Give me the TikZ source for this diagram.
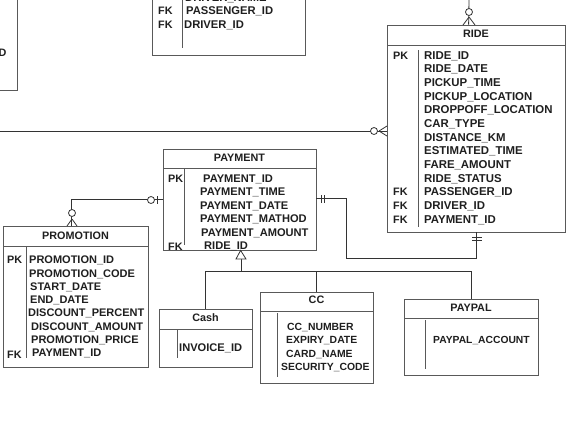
\documentclass[tikz,border=0pt]{standalone}
\usepackage{fontspec}
\setmainfont{Liberation Sans}
\usetikzlibrary{shadows}
\newcommand\erbox[6]{%
  \node[ebox, minimum width={#4-(#2)}, minimum height={#5-(#3)}] (#1) at ({(#2+#4)/2},{(#3+#5)/2}) {};
  \draw[eline] (#2,#6) -- (#4,#6);}
\begin{document}
\begin{tikzpicture}[x=1pt,y=-1pt,
  ebox/.style={draw=black!65, line width=0.8pt, fill=white, inner sep=0pt,
    drop shadow={opacity=0.15, shadow xshift=1.2pt, shadow yshift=-1.2pt}},
  eline/.style={draw=black!65, line width=0.8pt},
  conn/.style={draw=black!80, line width=0.8pt},
  attr/.style={anchor=base west, inner sep=0pt, font=\fontsize{#1}{12}\selectfont\bfseries, text=black!88},
  attr/.default=10.8,
  ttl/.style={inner sep=0pt, font=\fontsize{10.8}{12}\selectfont\bfseries, text=black!88}]
\useasboundingbox (0,0) rectangle (576,440);
\clip (0,0) rectangle (576,440);

% ---------- partial box top left
\erbox{tl}{-20}{-20}{17}{90}{-30}
\node[attr] (tlD) at (-1.5,56) {D};

% ---------- partial box top middle
\erbox{tm}{152}{-20}{305}{55}{-30}
\draw[eline] (182,-20) -- (182,48);
\node[attr=11.2] (tm0) at (185,1) {DRIVER\_NAME};
\node[attr=11.2] (tm1) at (186,14) {PASSENGER\_ID};
\node[attr=11.2] (tm2) at (184,28) {DRIVER\_ID};
\node[attr] (tmk1) at (158,14) {FK};
\node[attr] (tmk2) at (158,28) {FK};

% ---------- RIDE
\erbox{ride}{387}{25}{565}{232}{45}
\node[ttl] (rideT0) at (476,34) {RIDE};
\draw[eline] (418,50) -- (418,227);
\foreach \t [count=\i] in {RIDE\_ID, RIDE\_DATE, PICKUP\_TIME, PICKUP\_LOCATION,
  DROPPOFF\_LOCATION, CAR\_TYPE, DISTANCE\_KM, ESTIMATED\_TIME, FARE\_AMOUNT,
  RIDE\_STATUS, PASSENGER\_ID, DRIVER\_ID, PAYMENT\_ID}
  \node[attr=11.4] (ride\i) at (424,{59+13.67*(\i-1)}) {\t};
\node[attr] (ridePK) at (393,59) {PK};
\node[attr] (rideFK1) at (393,195.7) {FK};
\node[attr] (rideFK2) at (393,209.4) {FK};
\node[attr] (rideFK3) at (393,223) {FK};

% ---------- PAYMENT
\erbox{pay}{163}{149}{316}{250}{168}
\node[ttl] (payT0) at (239.5,158) {PAYMENT};
\draw[eline] (184,168) -- (184,245);
\node[attr=11.1] (pay1) at (203,182) {PAYMENT\_ID};
\node[attr=11.1] (pay2) at (200,195) {PAYMENT\_TIME};
\node[attr=11.1] (pay3) at (200,209) {PAYMENT\_DATE};
\node[attr=11.1] (pay4) at (200,222) {PAYMENT\_MATHOD};
\node[attr=11.1] (pay5) at (201,236) {PAYMENT\_AMOUNT};
\node[attr=11.1] (pay6) at (204,249) {RIDE\_ID};
\node[attr] (payPK) at (168,182) {PK};
\node[attr] (payFK) at (168,250) {FK};

% ---------- PROMOTION
\erbox{promo}{3}{226}{148}{367}{246}
\node[ttl] (promoT0) at (75.5,236) {PROMOTION};
\draw[eline] (26,246) -- (26,358);
\node[attr=11] (pr1) at (29,263) {PROMOTION\_ID};
\node[attr=11] (pr2) at (29,277) {PROMOTION\_CODE};
\node[attr=11] (pr3) at (30,290) {START\_DATE};
\node[attr=11] (pr4) at (30,303) {END\_DATE};
\node[attr=11] (pr5) at (28,316) {DISCOUNT\_PERCENT};
\node[attr=11] (pr6) at (31,330) {DISCOUNT\_AMOUNT};
\node[attr=11] (pr7) at (31,343) {PROMOTION\_PRICE};
\node[attr=11] (pr8) at (32,356) {PAYMENT\_ID};
\node[attr] (prPK) at (7,263) {PK};
\node[attr] (prFK) at (7,358) {FK};

% ---------- Cash
\erbox{cash}{159}{309}{252}{367}{329}
\node[ttl] (cashT0) at (205.5,318) {Cash};
\draw[eline] (177,329) -- (177,358);
\node[attr=11.1] (cash1) at (179,351) {INVOICE\_ID};

% ---------- CC
\erbox{cc}{260}{292}{373}{383}{311}
\node[ttl] (ccT0) at (316.5,300) {CC};
\draw[eline] (277,313) -- (277,377);
\node[attr=10.4] (cc1) at (287,330) {CC\_NUMBER};
\node[attr=10.4] (cc2) at (286,343) {EXPIRY\_DATE};
\node[attr=10.4] (cc3) at (286,357) {CARD\_NAME};
\node[attr=10.4] (cc4) at (281,370) {SECURITY\_CODE};

% ---------- PAYPAL
\erbox{paypal}{404}{299}{538}{375}{318}
\node[ttl] (ppT0) at (471,308) {PAYPAL};
\draw[eline] (425,320) -- (425,369);
\node[attr=10.3] (pp1) at (433,343) {PAYPAL\_ACCOUNT};

% ---------- connectors
% top -> RIDE (zero or many)
\coordinate (topEnd) at (469,0);
\path (ride.north west) ++(82,0) coordinate (rideTop);
\draw[conn] (topEnd) -- (rideTop);
\draw[conn] (469,17) -- (463,25) (469,17) -- (475,25);
\draw[conn, fill=white] (469,12) circle (3.5);

% left -> RIDE (zero or many)
\coordinate (leftEnd) at (0,131);
\draw[conn] (leftEnd) -- (leftEnd -| ride.west);
\draw[conn] (379,131) -- (387,126) (379,131) -- (387,136);
\draw[conn, fill=white] (374,131) circle (3.5);

% PROMOTION -> PAYMENT
\path (promo.north west) ++(69,0) coordinate (promoTop);
\path (pay.north west) ++(0,51) coordinate (payL);
\draw[conn] (promoTop) |- (payL);
\draw[conn] (72,219) -- (67,226) (72,219) -- (77,226);
\draw[conn, fill=white] (72,213) circle (3.5);
\draw[conn] (157,196) -- (157,204);
\draw[conn, fill=white] (151,200) circle (3.5);

% PAYMENT -> RIDE
\path (pay.north east) ++(0,50) coordinate (payR);
\path (ride.south west) ++(90,0) coordinate (rideBot);
\draw[conn] (payR) -| (346,258) -| (rideBot);
\draw[conn] (321,195) -- (321,203) (324,195) -- (324,203);
\draw[conn] (472,237) -- (482,237) (472,240) -- (482,240);

% inheritance
\path (pay.south west) ++(78,0) coordinate (payB);
\coordinate (triB) at (241,259);
\draw[conn] (triB) -- ++(0,12) coordinate (hub);
\draw[conn] (hub -| cash.north) -- (hub -| paypal.north);
\draw[conn] (hub -| cash.north) -- (cash.north);
\draw[conn] (hub -| cc.north) -- (cc.north);
\draw[conn] (hub -| paypal.north) -- (paypal.north);
\draw[conn, fill=white] (payB) -- (246,259) -- (236,259) -- cycle;
\end{tikzpicture}
\end{document}
